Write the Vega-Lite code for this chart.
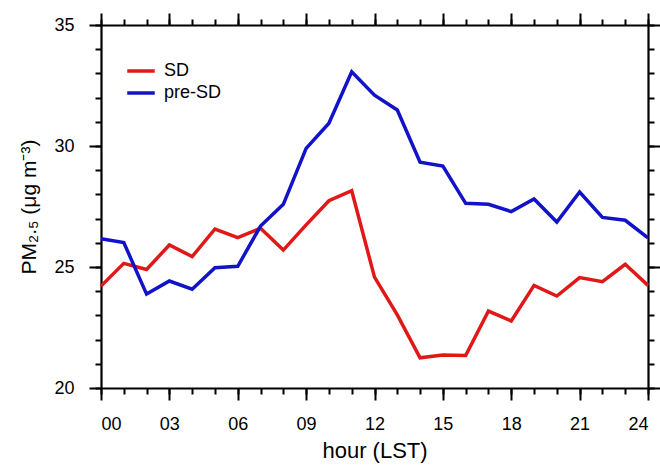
{
  "$schema": "https://vega.github.io/schema/vega-lite/v6.json",
  "autosize": "none",
  "width": 547,
  "height": 363,
  "padding": {"left": 101, "top": 25, "right": 12, "bottom": 77},
  "background": "white",
  "config": {
    "view": {"stroke": null},
    "font": "Liberation Sans",
    "axis": {
      "domainColor": "black", "domainWidth": 2.2, "tickColor": "black", "tickWidth": 2,
      "grid": false, "labelFont": "Liberation Sans", "titleFont": "Liberation Sans",
      "labelColor": "black", "titleColor": "black", "labelFontSize": 18, "titleFontSize": 21, "titleFontWeight": "normal"
    }
  },
  "data": {
    "values": [
      {"hour": 0, "series": "SD", "pm": 24.21}, {"hour": 1, "series": "SD", "pm": 25.15}, {"hour": 2, "series": "SD", "pm": 24.9},
      {"hour": 3, "series": "SD", "pm": 25.91}, {"hour": 4, "series": "SD", "pm": 25.43}, {"hour": 5, "series": "SD", "pm": 26.57},
      {"hour": 6, "series": "SD", "pm": 26.21}, {"hour": 7, "series": "SD", "pm": 26.6}, {"hour": 8, "series": "SD", "pm": 25.7},
      {"hour": 9, "series": "SD", "pm": 26.74}, {"hour": 10, "series": "SD", "pm": 27.74}, {"hour": 11, "series": "SD", "pm": 28.15},
      {"hour": 12, "series": "SD", "pm": 24.58}, {"hour": 13, "series": "SD", "pm": 23.02}, {"hour": 14, "series": "SD", "pm": 21.25},
      {"hour": 15, "series": "SD", "pm": 21.36}, {"hour": 16, "series": "SD", "pm": 21.34}, {"hour": 17, "series": "SD", "pm": 23.18},
      {"hour": 18, "series": "SD", "pm": 22.77}, {"hour": 19, "series": "SD", "pm": 24.24}, {"hour": 20, "series": "SD", "pm": 23.8},
      {"hour": 21, "series": "SD", "pm": 24.56}, {"hour": 22, "series": "SD", "pm": 24.39}, {"hour": 23, "series": "SD", "pm": 25.11},
      {"hour": 24, "series": "SD", "pm": 24.24},
      {"hour": 0, "series": "pre-SD", "pm": 26.17}, {"hour": 1, "series": "pre-SD", "pm": 26.01}, {"hour": 2, "series": "pre-SD", "pm": 23.88},
      {"hour": 3, "series": "pre-SD", "pm": 24.42}, {"hour": 4, "series": "pre-SD", "pm": 24.08}, {"hour": 5, "series": "pre-SD", "pm": 24.97},
      {"hour": 6, "series": "pre-SD", "pm": 25.03}, {"hour": 7, "series": "pre-SD", "pm": 26.69}, {"hour": 8, "series": "pre-SD", "pm": 27.59},
      {"hour": 9, "series": "pre-SD", "pm": 29.9}, {"hour": 10, "series": "pre-SD", "pm": 30.94}, {"hour": 11, "series": "pre-SD", "pm": 33.07},
      {"hour": 12, "series": "pre-SD", "pm": 32.1}, {"hour": 13, "series": "pre-SD", "pm": 31.49}, {"hour": 14, "series": "pre-SD", "pm": 29.33},
      {"hour": 15, "series": "pre-SD", "pm": 29.17}, {"hour": 16, "series": "pre-SD", "pm": 27.63}, {"hour": 17, "series": "pre-SD", "pm": 27.59},
      {"hour": 18, "series": "pre-SD", "pm": 27.29}, {"hour": 19, "series": "pre-SD", "pm": 27.81}, {"hour": 20, "series": "pre-SD", "pm": 26.86},
      {"hour": 21, "series": "pre-SD", "pm": 28.1}, {"hour": 22, "series": "pre-SD", "pm": 27.05}, {"hour": 23, "series": "pre-SD", "pm": 26.93},
      {"hour": 24, "series": "pre-SD", "pm": 26.2}
    ]
  },
  "resolve": {"axis": {"x": "independent", "y": "independent"}},
  "layer": [
    {
      "mark": {"type": "point", "opacity": 0},
      "encoding": {
        "x": {"field": "hour", "type": "quantitative", "scale": {"domain": [0, 24], "nice": false},
              "axis": {"orient": "bottom", "values": [0,1,2,3,4,5,6,7,8,9,10,11,12,13,14,15,16,17,18,19,20,21,22,23,24], "labels": false, "title": null, "tickSize": 6, "domain": false}},
        "y": {"field": "pm", "type": "quantitative", "scale": {"domain": [20, 35], "nice": false, "zero": false},
              "axis": {"orient": "left", "values": [20,21,22,23,24,25,26,27,28,29,30,31,32,33,34,35], "labels": false, "title": null, "tickSize": 6, "domain": false}}
      }
    },
    {
      "mark": {"type": "point", "opacity": 0},
      "encoding": {
        "x": {"field": "hour", "type": "quantitative", "axis": {"orient": "top", "values": [0,1,2,3,4,5,6,7,8,9,10,11,12,13,14,15,16,17,18,19,20,21,22,23,24], "labels": false, "title": null, "tickSize": 6, "domain": false}},
        "y": {"field": "pm", "type": "quantitative", "axis": {"orient": "right", "values": [20,21,22,23,24,25,26,27,28,29,30,31,32,33,34,35], "labels": false, "title": null, "tickSize": 6, "domain": false}}
      }
    },
    {
      "mark": {"type": "point", "opacity": 0},
      "encoding": {
        "x": {"field": "hour", "type": "quantitative", "axis": {"orient": "top", "values": [0,3,6,9,12,15,18,21,24], "labels": false, "title": null, "tickSize": 12}},
        "y": {"field": "pm", "type": "quantitative", "axis": {"orient": "right", "values": [20,25,30,35], "labels": false, "title": null, "tickSize": 12}}
      }
    },
    {
      "mark": {"type": "line", "strokeWidth": 3.5},
      "encoding": {
        "x": {"field": "hour", "type": "quantitative",
              "axis": {"orient": "bottom", "values": [0,3,6,9,12,15,18,21,24], "format": "02d", "tickSize": 12, "labelPadding": 15, "title": "hour (LST)", "titleFontSize": 22, "titlePadding": 7}},
        "y": {"field": "pm", "type": "quantitative",
              "axis": {"orient": "left", "values": [20,25,30,35], "tickSize": 12, "labelPadding": 15, "title": "PM₂.₅ (μg m⁻³)", "titlePadding": 14}},
        "color": {"field": "series", "type": "nominal",
                  "scale": {"domain": ["SD", "pre-SD"], "range": ["#e01818", "#1212c8"]},
                  "legend": {"orient": "none", "legendX": 27, "legendY": 33, "title": null, "symbolType": "M-1.25,0H1.25", "symbolSize": 484, "symbolStrokeWidth": 3.5, "labelFontSize": 18, "labelFont": "Liberation Sans", "labelColor": "black", "labelOffset": 10, "rowPadding": 0}}
      }
    }
  ]
}
